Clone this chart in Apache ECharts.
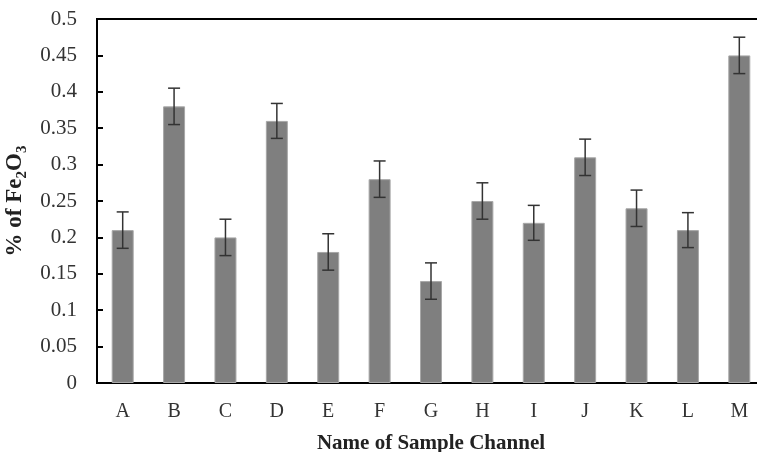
<!DOCTYPE html>
<html>
<head>
<meta charset="utf-8">
<script src="https://cdn.jsdelivr.net/npm/echarts@6/dist/echarts.min.js"></script>
<style>
  html, body { margin: 0; padding: 0; background: #fff; }
  #main { width: 757px; height: 452px; }
</style>
</head>
<body>
<div id="main"></div>
<script>
  // channel names and measured Fe2O3 percentages
  const channels = ['A', 'B', 'C', 'D', 'E', 'F', 'G', 'H', 'I', 'J', 'K', 'L', 'M'];
  const fe2o3 = [0.21, 0.38, 0.20, 0.36, 0.18, 0.28, 0.14, 0.25, 0.22, 0.31, 0.24, 0.21, 0.45];
  const errors = [0.025, 0.025, 0.025, 0.024, 0.025, 0.025, 0.025, 0.025, 0.024, 0.025, 0.025, 0.024, 0.025];
  const yTicks = [0, 0.5, 0.05];  // min, max, step

  const errData = fe2o3.map(function (v, i) {
    return [i, v - errors[i], v + errors[i]];
  });

  const serif = '"Liberation Serif", "Times New Roman", serif';

  const chart = echarts.init(document.getElementById('main'));
  chart.setOption({
    animation: false,
    grid: {
      left: 97, top: 19, right: -8, bottom: 69,
      outerBoundsMode: 'none',
      show: true, borderColor: '#000', borderWidth: 2, backgroundColor: 'transparent'
    },
    xAxis: {
      type: 'category',
      data: channels,
      name: 'Name of Sample Channel',
      nameLocation: 'middle',
      nameGap: 50,
      nameTextStyle: {fontFamily: serif, fontWeight: 'bold', fontSize: 21, color: '#222'},
      axisLine: {lineStyle: {color: '#000', width: 2}},
      axisTick: {inside: true, length: 5, lineStyle: {color: '#000', width: 2}},
      axisLabel: {fontFamily: serif, fontSize: 20, color: '#333', margin: 19}
    },
    yAxis: {
      type: 'value',
      min: yTicks[0], max: yTicks[1], interval: yTicks[2],
      name: '{n|% of Fe}{s|2}{n|O}{s|3}',
      nameLocation: 'middle',
      nameGap: 61,
      nameTextStyle: {
        fontFamily: serif, fontWeight: 'bold', fontSize: 23, color: '#222',
        rich: {
          n: {fontFamily: serif, fontWeight: 'bold', fontSize: 23, color: '#222', lineHeight: 28},
          s: {fontFamily: serif, fontWeight: 'bold', fontSize: 15, color: '#222', lineHeight: 15, verticalAlign: 'bottom'}
        }
      },
      splitLine: {show: false},
      axisLine: {show: true, lineStyle: {color: '#000', width: 2}},
      axisTick: {show: true, inside: true, length: 6, lineStyle: {color: '#000', width: 2}},
      axisLabel: {fontFamily: serif, fontSize: 21, color: '#333', margin: 20}
    },
    series: [
      {
        type: 'bar',
        data: fe2o3,
        barWidth: 22,
        itemStyle: {color: '#7f7f7f', borderColor: '#a8a8a8', borderWidth: 1}
      },
      {
        type: 'custom',
        data: errData,
        z: 10,
        renderItem: function (params, api) {
          const lo = api.coord([api.value(0), api.value(1)]);
          const hi = api.coord([api.value(0), api.value(2)]);
          const cap = 6;
          const style = {stroke: '#333', lineWidth: 1.5};
          return {
            type: 'group',
            children: [
              {type: 'line', shape: {x1: hi[0], y1: hi[1], x2: lo[0], y2: lo[1]}, style: style},
              {type: 'line', shape: {x1: hi[0] - cap, y1: hi[1], x2: hi[0] + cap, y2: hi[1]}, style: style},
              {type: 'line', shape: {x1: lo[0] - cap, y1: lo[1], x2: lo[0] + cap, y2: lo[1]}, style: style}
            ]
          };
        }
      }
    ]
  });
</script>
</body>
</html>
